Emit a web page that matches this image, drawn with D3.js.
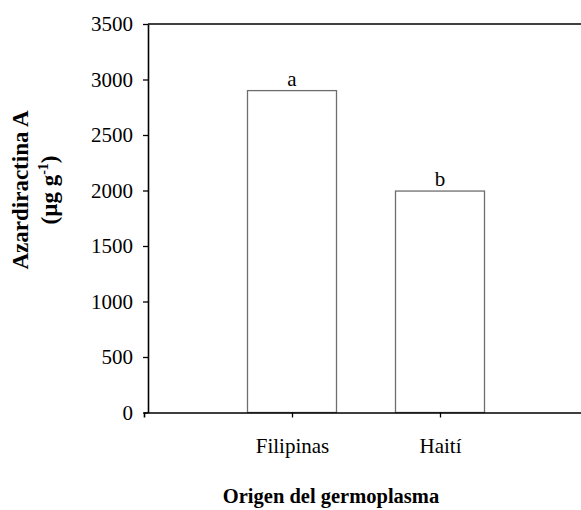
<!DOCTYPE html>
<html>
<head>
<meta charset="utf-8">
<script src="https://cdn.jsdelivr.net/npm/d3@7"></script>
<style>
  body { margin: 0; background: #fff; }
  svg { display: block; }
  svg text { font-family: "Liberation Serif", "Times New Roman", serif; fill: #000; }
</style>
</head>
<body>
<svg id="chart"></svg>
<script>
// Data
const categories = ["Filipinas", "Haití"];
const values = [2900, 1995];
const letters = ["a", "b"];
const yTicks = [0, 500, 1000, 1500, 2000, 2500, 3000, 3500];

const width = 581;
const height = 510;

const svg = d3.select("#chart").attr("width", width).attr("height", height);

// plot frame (right edge runs past the window, like the source)
const plotLeft = 148, plotTop = 24, plotBottom = 412.5, plotRight = 588;

const y = d3.scaleLinear().domain([0, 3500]).range([plotBottom, plotTop]);
const x = d3.scalePoint().domain(categories).range([144, plotRight]).padding(1);

const barWidth = 89;

// top border
svg.append("line")
    .attr("x1", plotLeft).attr("x2", plotRight)
    .attr("y1", plotTop).attr("y2", plotTop)
    .attr("stroke", "#000").attr("stroke-width", 1.6);

// bars
svg.append("g")
    .selectAll("rect")
    .data(categories)
    .join("rect")
    .attr("x", (d) => x(d) - barWidth / 2)
    .attr("y", (d, i) => y(values[i]))
    .attr("width", barWidth)
    .attr("height", (d, i) => y(0) - y(values[i]))
    .attr("fill", "#fff")
    .attr("stroke", "#6e6e6e")
    .attr("stroke-width", 1.3);

// significance letters
svg.append("g")
    .selectAll("text")
    .data(categories)
    .join("text")
    .attr("x", (d) => x(d))
    .attr("y", (d, i) => y(values[i]) - 5)
    .attr("text-anchor", "middle")
    .style("font-size", "21px")
    .text((d, i) => letters[i]);

// y axis
const yAxis = svg.append("g")
    .attr("transform", `translate(${plotLeft},0)`)
    .call(d3.axisLeft(y).tickValues(yTicks).tickFormat(d3.format("d"))
        .tickSize(5).tickSizeOuter(0).tickPadding(10));
yAxis.attr("font-family", null).attr("font-size", null);
yAxis.select(".domain").attr("stroke", "#000").attr("stroke-width", 1.6);
yAxis.selectAll(".tick line").attr("stroke-width", 1.3);
yAxis.selectAll("text").style("font-size", "21px");

// x axis
const xAxis = svg.append("g")
    .attr("transform", `translate(0,${plotBottom})`)
    .call(d3.axisBottom(x).tickSize(5).tickSizeOuter(5));
xAxis.attr("font-family", null).attr("font-size", null);
xAxis.select(".domain").attr("stroke", "#000").attr("stroke-width", 1.6);
xAxis.selectAll(".tick line").attr("stroke-width", 1.3);
xAxis.selectAll("text").attr("dy", null).attr("y", 40).style("font-size", "21px");

// axis titles
svg.append("text")
    .attr("x", 331)
    .attr("y", 503)
    .attr("text-anchor", "middle")
    .style("font-size", "20.5px")
    .style("font-weight", "bold")
    .text("Origen del germoplasma");

const yTitle = svg.append("text")
    .attr("transform", "translate(28,190) rotate(-90)")
    .attr("text-anchor", "middle")
    .style("font-size", "23px")
    .style("font-weight", "bold");
yTitle.append("tspan").attr("x", 0).attr("dy", 0).text("Azardiractina A");
const line2 = yTitle.append("tspan").attr("x", 0).attr("dy", 29);
line2.append("tspan").text("(µg g");
line2.append("tspan").style("font-size", "14px").attr("dy", -9).text("-1");
line2.append("tspan").attr("dy", 9).text(")");
</script>
</body>
</html>
